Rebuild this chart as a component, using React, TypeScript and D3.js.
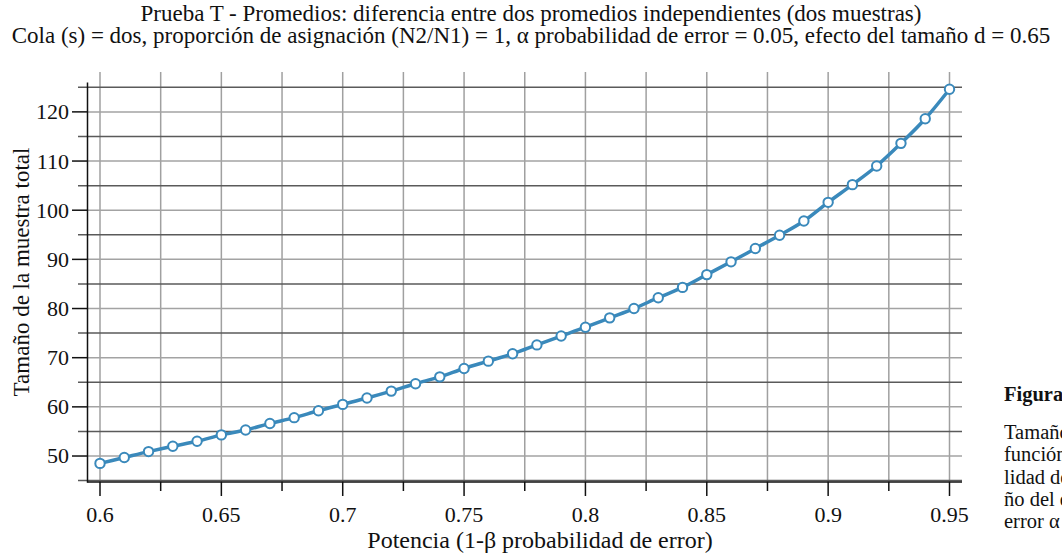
// Power analysis curve: total sample size vs. power (t-test, two independent means)

import { useEffect } from "react";
import * as d3 from "d3";

const power = [
  0.6, 0.61, 0.62, 0.63, 0.64, 0.65, 0.66, 0.67, 0.68, 0.69, 0.7, 0.71, 0.72,
  0.73, 0.74, 0.75, 0.76, 0.77, 0.78, 0.79, 0.8, 0.81, 0.82, 0.83, 0.84, 0.85,
  0.86, 0.87, 0.88, 0.89, 0.9, 0.91, 0.92, 0.93, 0.94, 0.95,
];
const sampleSize = [
  48.5, 49.7, 50.9, 52.0, 53.0, 54.3, 55.3, 56.6, 57.8, 59.2, 60.5, 61.8, 63.2,
  64.7, 66.1, 67.8, 69.3, 70.8, 72.6, 74.4, 76.2, 78.1, 80.0, 82.2, 84.3, 86.9,
  89.5, 92.2, 94.9, 97.8, 101.6, 105.2, 109.0, 113.6, 118.6, 124.6,
];
const xMajorTicks = [0.6, 0.65, 0.7, 0.75, 0.8, 0.85, 0.9, 0.95];
const xMinorTicks = [0.625, 0.675, 0.725, 0.775, 0.825, 0.875, 0.925];
const yMajorTicks = [50, 60, 70, 80, 90, 100, 110, 120];
const yMinorTicks = [45, 55, 65, 75, 85, 95, 105, 115, 125];

const titleLines = [
  "Prueba T - Promedios: diferencia entre dos promedios independientes (dos muestras)",
  "Cola (s) = dos, proporción de asignación (N2/N1) = 1, α probabilidad de error = 0.05, efecto del tamaño d = 0.65",
];
const xTitle = "Potencia (1-β probabilidad de error)";
const yTitle = "Tamaño de la muestra total";
const captionTitle = "Figura 1";
const captionLines = [
  "Tamaño de la muestra total en",
  "función de la potencia (1-β probabi-",
  "lidad de error) con un efecto del tama-",
  "ño del efecto d = 0.65 y",
  "error α = 0.05",
];

const W = 1062;
const H = 555;
const FONT = "'Liberation Serif', 'Times New Roman', serif";
const BLUE = "#3a89bb";

export default function App() {
  useEffect(() => {
    document.body.style.margin = "0";
  }, []);

  const x = d3.scaleLinear().domain([0.6, 0.95]).range([100, 949.5]);
  const y = d3.scaleLinear().domain([45, 125]).range([480.6, 87.3]);

  const axisX = 87.5;
  const axisY = 482;
  const right = 962;
  const top = 72;

  const pts = power.map((p, i) => [p, sampleSize[i]] as [number, number]);
  const line = d3
    .line<[number, number]>()
    .x((d) => x(d[0]))
    .y((d) => y(d[1]))
    .curve(d3.curveMonotoneX);

  return (
    <svg
      width={W}
      height={H}
      style={{ display: "block", background: "#fff", fontFamily: FONT }}
    >
      {/* titles */}
      {titleLines.map((t, i) => (
        <text key={t} x={531} y={20.5 + i * 22} textAnchor="middle" fontSize={23} fill="#111">
          {t}
        </text>
      ))}

      {/* vertical grid */}
      {[...xMajorTicks, ...xMinorTicks].map((v) => (
        <line key={"vg" + v} x1={x(v)} x2={x(v)} y1={top} y2={axisY} stroke="#a0a0a0" strokeWidth={1.5} />
      ))}
      {/* horizontal grid */}
      {yMajorTicks.map((v) => (
        <line key={"hg" + v} x1={axisX} x2={right} y1={y(v)} y2={y(v)} stroke="#a3a3a3" strokeWidth={1.5} />
      ))}
      {yMinorTicks.map((v) => (
        <line key={"hm" + v} x1={78} x2={right} y1={y(v)} y2={y(v)} stroke="#5a5a5a" strokeWidth={1.5} />
      ))}

      {/* axes */}
      <line x1={axisX} x2={axisX} y1={82.5} y2={axisY + 0.75} stroke="#111" strokeWidth={1.5} />
      <line x1={axisX} x2={right} y1={axisY} y2={axisY} stroke="#111" strokeWidth={1.5} />
      {yMajorTicks.map((v) => (
        <g key={"yt" + v}>
          <line x1={72} x2={axisX} y1={y(v)} y2={y(v)} stroke="#111" strokeWidth={1.5} />
          <text x={69} y={y(v)} dy="0.34em" textAnchor="end" fontSize={22} fill="#111">
            {v}
          </text>
        </g>
      ))}
      {xMajorTicks.map((v) => (
        <g key={"xt" + v}>
          <line x1={x(v)} x2={x(v)} y1={axisY} y2={axisY + 14} stroke="#111" strokeWidth={1.5} />
          <text x={x(v)} y={522} textAnchor="middle" fontSize={22} fill="#111">
            {d3.format("~g")(v)}
          </text>
        </g>
      ))}
      {xMinorTicks.map((v) => (
        <line key={"xm" + v} x1={x(v)} x2={x(v)} y1={axisY} y2={axisY + 9} stroke="#111" strokeWidth={1.5} />
      ))}

      {/* axis titles */}
      <text x={540} y={548} textAnchor="middle" fontSize={24} fill="#111">
        {xTitle}
      </text>
      <text transform="translate(29,272) rotate(-90)" textAnchor="middle" fontSize={23} fill="#111">
        {yTitle}
      </text>

      {/* curve */}
      <path d={line(pts) || ""} fill="none" stroke={BLUE} strokeWidth={3.5} />
      {pts.map((d) => (
        <circle key={"p" + d[0]} cx={x(d[0])} cy={y(d[1])} r={4.7} fill="#fff" stroke={BLUE} strokeWidth={2} />
      ))}

      {/* caption at the right */}
      <text x={1004} y={401} fontSize={20.5} fontWeight="bold" fill="#111">
        {captionTitle}
      </text>
      {captionLines.map((t, i) => (
        <text key={t} x={1004} y={439 + i * 22.3} fontSize={20.5} fill="#111">
          {t}
        </text>
      ))}
    </svg>
  );
}
